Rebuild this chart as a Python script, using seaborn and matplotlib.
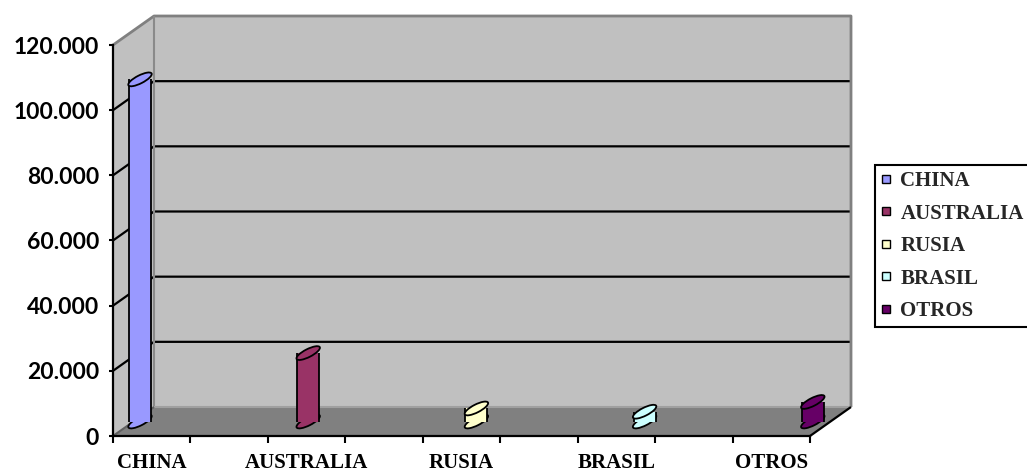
import numpy as np
import pandas as pd
import matplotlib
matplotlib.use("Agg")
import matplotlib.pyplot as plt
import seaborn as sns
from matplotlib.patches import Ellipse, Polygon, Rectangle
from matplotlib.transforms import Affine2D, IdentityTransform
from matplotlib.lines import Line2D

# ---------------- data ----------------
categories = ["CHINA", "AUSTRALIA", "RUSIA", "BRASIL", "OTROS"]
values = [105000, 21000, 4000, 3000, 6000]
colors = ["#9999FF", "#993366", "#FFFFCC", "#CCFFFF", "#660066"]
y_ticks = [0, 20000, 40000, 60000, 80000, 100000, 120000]
y_labels = ["0", "20.000", "40.000", "60.000", "80.000", "100.000", "120.000"]

# ---------------- layout (pixels) ----------------
W, H = 1027, 473
L, R, B, T = 113, 810, 436, 45     # front plane of the plot box
DX, DY = 41, 29                    # depth offset of back wall
BAR0, BARSTEP = 140, 168.2         # pixel centre of first bar (mid depth) and spacing
MID = 0.5
CAP_W, CAP_H, CAP_ANGLE = 26, 8, 27

sns.set_theme(style="white")
plt.rcParams["font.family"] = ["DejaVu Sans"]

fig = plt.figure(figsize=(W / 100, H / 100), dpi=100)
ax = fig.add_axes([L / W, 1 - B / H, (R - L) / W, (B - T) / H])
ax.patch.set_visible(False)

df = pd.DataFrame({"pais": categories, "valor": values})
bar_w = 22 / BARSTEP
sns.barplot(data=df, x="pais", y="valor", hue="pais", palette=colors,
            order=categories, hue_order=categories, width=bar_w,
            saturation=1, linewidth=0, ax=ax, legend=True)
bars = [p for p in ax.patches if isinstance(p, Rectangle) and p.get_height() > 0]
bars.sort(key=lambda p: p.get_x())

# x limits so that bars (at mid depth) land on their pixel positions
front0 = BAR0 - MID * DX
x0 = (L - front0) / BARSTEP
x1 = (R - front0) / BARSTEP
ax.set_xlim(x0, x1)
ax.set_ylim(y_ticks[0], y_ticks[-1])


def P(x, y, depth=0.0):
    px, py = ax.transData.transform((x, y))
    return (px + depth * DX, py + depth * DY)


ident = IdentityTransform()

# walls and floor
back = [P(x0, 0, 1), P(x1, 0, 1), P(x1, y_ticks[-1], 1), P(x0, y_ticks[-1], 1)]
ax.add_patch(Polygon(back, closed=True, transform=ident, fc="#C0C0C0", ec="none",
                     zorder=0.1, clip_on=False))
side = [P(x0, 0, 0), P(x0, 0, 1), P(x0, y_ticks[-1], 1), P(x0, y_ticks[-1], 0)]
ax.add_patch(Polygon(side, closed=True, transform=ident, fc="#C0C0C0", ec="none",
                     zorder=0.1, clip_on=False))
floor = [P(x0, 0, 0), P(x1, 0, 0), P(x1, 0, 1), P(x0, 0, 1)]
ax.add_patch(Polygon(floor, closed=True, transform=ident, fc="#808080", ec="none",
                     zorder=0.2, clip_on=False))


def seg(pts, color, lw, z):
    xs, ys = zip(*pts)
    ax.add_line(Line2D(xs, ys, transform=ident, color=color, lw=lw, zorder=z,
                       clip_on=False, solid_capstyle="butt"))


# grid lines on side and back wall
for yv in y_ticks[1:-1]:
    seg([P(x0, yv, 0), P(x0, yv, 1), P(x1, yv, 1)], "black", 1.6, 0.3)
# wall outline
seg([P(x0, y_ticks[-1], 0), P(x0, y_ticks[-1], 1), P(x1, y_ticks[-1], 1),
     P(x1, 0, 1)], "#808080", 2.0, 0.3)
seg([P(x0, 0, 1), P(x0, y_ticks[-1], 1)], "#8A8A8A", 1.5, 0.3)
seg([P(x0, 0, 1), P(x1, 0, 1)], "#A0A0A0", 1.5, 0.3)
seg([P(x0, 0, 0), P(x0, 0, 1)], "#606060", 1.5, 0.3)
seg([P(x1, 0, 0), P(x1, 0, 1)], "black", 1.6, 0.3)

# bars -> mid depth, with cylinder caps
mid_tr = ax.transData + Affine2D().translate(MID * DX, MID * DY)
for p, col in zip(bars, colors):
    p.set_transform(mid_tr)
    p.set_clip_on(False)
    p.set_zorder(3)
    xl, xr = p.get_x(), p.get_x() + p.get_width()
    cx = (xl + xr) / 2
    h = p.get_height()
    top = P(cx, h, MID)
    bot = P(cx, 0, MID)
    ax.add_patch(Ellipse(bot, CAP_W, CAP_H, angle=CAP_ANGLE, transform=ident, fc=col,
                         ec="black", lw=1.3, zorder=2.9, clip_on=False))
    seg([P(xl, 0, MID), P(xl, h, MID)], "black", 1.3, 3.05)
    seg([P(xr, 0, MID), P(xr, h, MID)], "black", 1.3, 3.05)
    ax.add_patch(Ellipse(top, CAP_W, CAP_H, angle=CAP_ANGLE, transform=ident, fc=col,
                         ec="black", lw=1.3, zorder=3.1, clip_on=False))

# axes / ticks
for s in ["top", "right"]:
    ax.spines[s].set_visible(False)
for s in ["left", "bottom"]:
    ax.spines[s].set_color("black")
    ax.spines[s].set_linewidth(1.6)
    ax.spines[s].set_zorder(4)

ax.set_yticks(y_ticks)
ax.set_yticklabels(y_labels, fontfamily="Lato", fontweight="bold", fontsize=16.5,
                   color="black")
ax.tick_params(axis="y", direction="out", length=3, width=1.5, color="black",
               pad=7, left=True)

n_int = 9
ax.set_xticks([x0 + (x1 - x0) * k / n_int for k in range(n_int + 1)], minor=True)
ax.set_xticks([x0 + (x1 - x0) * (2 * j + 0.5) / n_int for j in range(len(categories))])
ax.set_xticklabels(categories, fontfamily="Liberation Serif", fontweight="bold",
                   fontsize=15, color="black")
ax.tick_params(axis="x", which="major", length=0, pad=12.5)
ax.tick_params(axis="x", which="minor", direction="out", length=5, width=1.5,
               color="black", bottom=True)
ax.set_xlabel("")
ax.set_ylabel("")

# legend (square markers in the series colours)
handles, labels = ax.get_legend_handles_labels()
if ax.get_legend() is not None:
    ax.get_legend().remove()
sq_handles = [Line2D([], [], ls="", marker="s", markersize=6.3,
                     markerfacecolor=hd.get_facecolor(), markeredgecolor="black",
                     markeredgewidth=1.0) for hd in handles]
leg = fig.legend(sq_handles, labels, loc="upper left",
                 bbox_to_anchor=(875 / W, 1 - 165 / H), bbox_transform=fig.transFigure,
                 frameon=True, fancybox=False, edgecolor="black", framealpha=1,
                 prop={"family": "Liberation Serif", "weight": "bold", "size": 15},
                 handlelength=0.42, handletextpad=0.5,
                 labelspacing=0.6, borderpad=0.3, borderaxespad=0)
leg.get_frame().set_linewidth(1.5)

fig.savefig("out.png", dpi=100, facecolor="white")
